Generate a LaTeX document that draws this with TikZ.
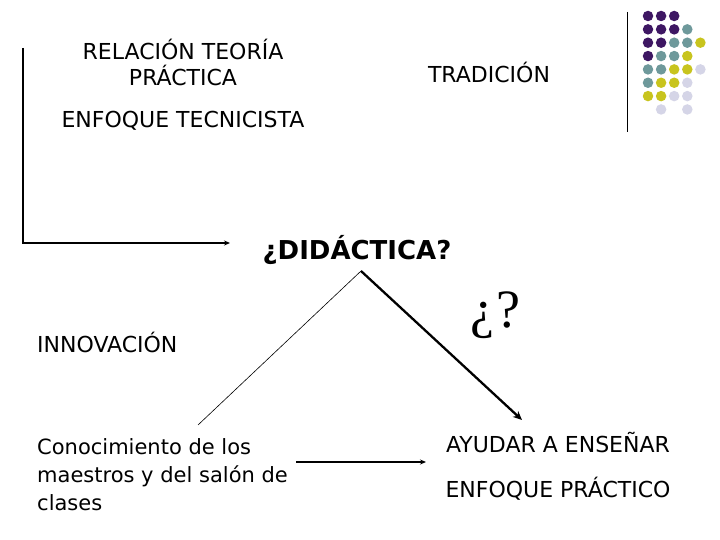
\documentclass[tikz,border=0pt]{standalone}
\usepackage{fontspec}
\setmainfont{DejaVu Sans}
\newfontfamily\serifq{Liberation Serif}
\usetikzlibrary{arrows.meta}
\definecolor{dpurple}{HTML}{3E1763}
\definecolor{dteal}{HTML}{6E999B}
\definecolor{dyellow}{HTML}{C8C41E}
\definecolor{dlight}{HTML}{D5D5E7}
\begin{document}
\begin{tikzpicture}[x=1pt,y=-1pt,
  lbl/.style={inner sep=0pt,font=\fontsize{22}{26}\selectfont},
  dot/.style={circle,inner sep=0pt,minimum size=10.5pt},
  conn/.style={line width=1.6pt,-{Stealth[length=6pt,width=5pt]}}]
\useasboundingbox[fill=white] (0,0) rectangle (720,540);
% dots
\foreach \c/\r/\col in {0/0/dpurple,1/0/dpurple,2/0/dpurple,
  0/1/dpurple,1/1/dpurple,2/1/dpurple,3/1/dteal,
  0/2/dpurple,1/2/dpurple,2/2/dteal,3/2/dteal,4/2/dyellow,
  0/3/dpurple,1/3/dteal,2/3/dteal,3/3/dyellow,
  0/4/dteal,1/4/dteal,2/4/dyellow,3/4/dyellow,4/4/dlight,
  0/5/dteal,1/5/dyellow,2/5/dyellow,3/5/dlight,
  0/6/dyellow,1/6/dyellow,2/6/dlight,3/6/dlight,
  1/7/dlight,3/7/dlight}
  \node[dot,fill=\col] (d\c\r) at (648+13.1*\c,16+13.35*\r) {};
\coordinate (vt) at (627,12);
\coordinate (vb) at (627,132);
\draw[line width=0.8pt] (vt) -- (vb);
% texts
\node[lbl,align=center] (rel) at (183,62) {RELACIÓN TEORÍA\\PRÁCTICA};
\node[lbl] (trad) at (489,72) {TRADICIÓN};
\node[lbl] (tec) at (183,121) {ENFOQUE TECNICISTA};
\node[inner sep=0pt,font=\bfseries\fontsize{26}{30}\selectfont] (did) at (357,250) {¿DIDÁCTICA?};
\node[inner sep=0pt,font=\serifq\fontsize{54}{58}\selectfont] (qq) at (495,315) {¿\kern2pt?};
\node[lbl,anchor=west] (inn) at (37,342) {INNOVACIÓN};
\node[lbl,anchor=north west,align=left,font=\fontsize{21}{28}\selectfont] (con) at (37,438) {Conocimiento de los\\maestros y del salón de\\clases};
\node[lbl] (ayu) at (558,443) {AYUDAR A ENSEÑAR};
\node[lbl] (enf) at (558,489) {ENFOQUE PRÁCTICO};
% connectors
\coordinate (lt) at (23,48);
\coordinate (lc) at (23,243);
\coordinate (la) at (230,243);
\draw[line width=1.6pt,-{Stealth[length=6pt,width=5pt]}] (lt) -- (lc) -- (la);
\coordinate (apex) at (361,271);
\coordinate (lend) at (198,425);
\coordinate (rend) at (522,420);
\draw[line width=0.6pt] (lend) -- (apex);
\draw[line width=2.3pt,-{Stealth[length=9pt,width=8pt]}] (apex) -- (rend);
\coordinate (ha) at (296,462);
\coordinate (hb) at (426,462);
\draw[conn] (ha) -- (hb);
\end{tikzpicture}
\end{document}
